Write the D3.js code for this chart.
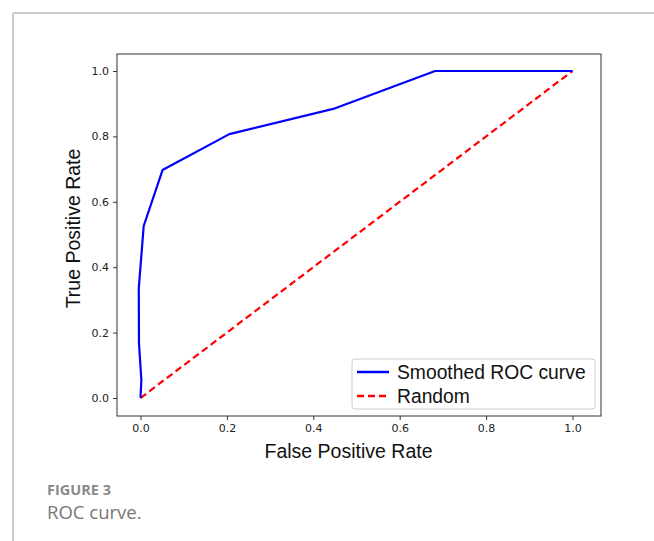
<!DOCTYPE html>
<html>
<head>
<meta charset="utf-8">
<script src="https://cdn.jsdelivr.net/npm/d3@7"></script>
<style>
  body { margin: 0; background: #fff; }
  svg { display: block; }
</style>
</head>
<body>
<svg id="chart" width="654" height="541"></svg>
<script>
// smoothed ROC curve
const fprValues = [0, 0.002, -0.0035, -0.004, 0.0074, 0.051, 0.2056, 0.446, 0.682, 1.0];
const tprValues = [0, 0.055, 0.167, 0.335, 0.526, 0.697, 0.807, 0.884, 1.0, 1.0];
const randomX = [0, 1];
const randomY = [0, 1];
const tickValues = [0, 0.2, 0.4, 0.6, 0.8, 1.0];
const legendLabels = ["Smoothed ROC curve", "Random"];

const svg = d3.select("#chart");

// page frame lines
svg.append("line").attr("x1", 13).attr("x2", 654).attr("y1", 13).attr("y2", 13)
    .attr("stroke", "#bbb").attr("stroke-width", 1.5);
svg.append("line").attr("x1", 13).attr("x2", 13).attr("y1", 13).attr("y2", 541)
    .attr("stroke", "#bbb").attr("stroke-width", 1.5);

const plot = { left: 117, right: 601, top: 54, bottom: 416 };

const x = d3.scaleLinear()
    .domain([(plot.left - 140.5) / 432, (plot.right - 140.5) / 432])
    .range([plot.left, plot.right]);
const y = d3.scaleLinear()
    .domain([(398 - plot.bottom) / 327, (398 - plot.top) / 327])
    .range([plot.bottom, plot.top]);

const tickFont = "'DejaVu Sans', sans-serif";
const labelFont = "'Liberation Sans', Arial, sans-serif";

// axes
const xAxis = svg.append("g")
    .attr("transform", `translate(0,${plot.bottom})`)
    .call(d3.axisBottom(x).tickValues(tickValues).tickFormat(d3.format(".1f")).tickSize(4).tickPadding(4));
const yAxis = svg.append("g")
    .attr("transform", `translate(${plot.left},0)`)
    .call(d3.axisLeft(y).tickValues(tickValues).tickFormat(d3.format(".1f")).tickSize(4).tickPadding(4));

[xAxis, yAxis].forEach(a => {
    a.select(".domain").remove();
    a.selectAll(".tick line").attr("stroke", "#333");
    a.selectAll(".tick text")
        .attr("fill", "#222")
        .style("font-family", tickFont)
        .style("font-size", "11px");
});

// frame
svg.append("rect")
    .attr("x", plot.left).attr("y", plot.top)
    .attr("width", plot.right - plot.left).attr("height", plot.bottom - plot.top)
    .attr("fill", "none").attr("stroke", "#333").attr("stroke-width", 1);

// random line
const randomPts = randomX.map((d, i) => [d, randomY[i]]);
svg.append("path")
    .datum(randomPts)
    .attr("d", d3.line().x(d => x(d[0])).y(d => y(d[1])))
    .attr("fill", "none")
    .attr("stroke", "#ff0000")
    .attr("stroke-width", 2.2)
    .attr("stroke-dasharray", "7,4");

// roc curve
const rocPts = fprValues.map((d, i) => [d, tprValues[i]]);
svg.append("path")
    .datum(rocPts)
    .attr("d", d3.line().x(d => x(d[0])).y(d => y(d[1])))
    .attr("fill", "none")
    .attr("stroke", "#0000ff")
    .attr("stroke-width", 2.2)
    .attr("stroke-linejoin", "round");

// axis labels
svg.append("text")
    .attr("x", (x(0) + x(1)) / 2 - 8).attr("y", 458)
    .attr("text-anchor", "middle")
    .style("font-family", labelFont).style("font-size", "19.5px")
    .attr("fill", "#111")
    .text("False Positive Rate");
svg.append("text")
    .attr("transform", `translate(80,${(y(0) + y(1)) / 2 - 6}) rotate(-90)`)
    .attr("text-anchor", "middle")
    .style("font-family", labelFont).style("font-size", "19.5px")
    .attr("fill", "#111")
    .text("True Positive Rate");

// legend
const legend = svg.append("g");
legend.append("rect")
    .attr("x", 352).attr("y", 359).attr("width", 243).attr("height", 50)
    .attr("rx", 3)
    .attr("fill", "#fff").attr("stroke", "#ccc").attr("stroke-width", 1);
const legendStyles = [
    { color: "#0000ff", dash: null },
    { color: "#ff0000", dash: "7,4" }
];
legendLabels.forEach((lab, i) => {
    const cy = 372 + i * 24;
    legend.append("line")
        .attr("x1", 357).attr("x2", 389).attr("y1", cy).attr("y2", cy)
        .attr("stroke", legendStyles[i].color).attr("stroke-width", 2.5)
        .attr("stroke-dasharray", legendStyles[i].dash);
    legend.append("text")
        .attr("x", 397).attr("y", cy + 7)
        .style("font-family", labelFont).style("font-size", "19.3px")
        .attr("fill", "#111")
        .text(lab);
});

// caption
svg.append("text")
    .attr("x", 47).attr("y", 495)
    .style("font-family", "'Open Sans', sans-serif").style("font-size", "14.5px")
    .style("font-weight", "bold")
    .attr("fill", "#8a8a8a")
    .text("FIGURE 3");
svg.append("text")
    .attr("x", 47).attr("y", 519)
    .style("font-family", "'Open Sans', sans-serif").style("font-size", "18.5px")
    .attr("fill", "#777")
    .text("ROC curve.");
</script>
</body>
</html>
